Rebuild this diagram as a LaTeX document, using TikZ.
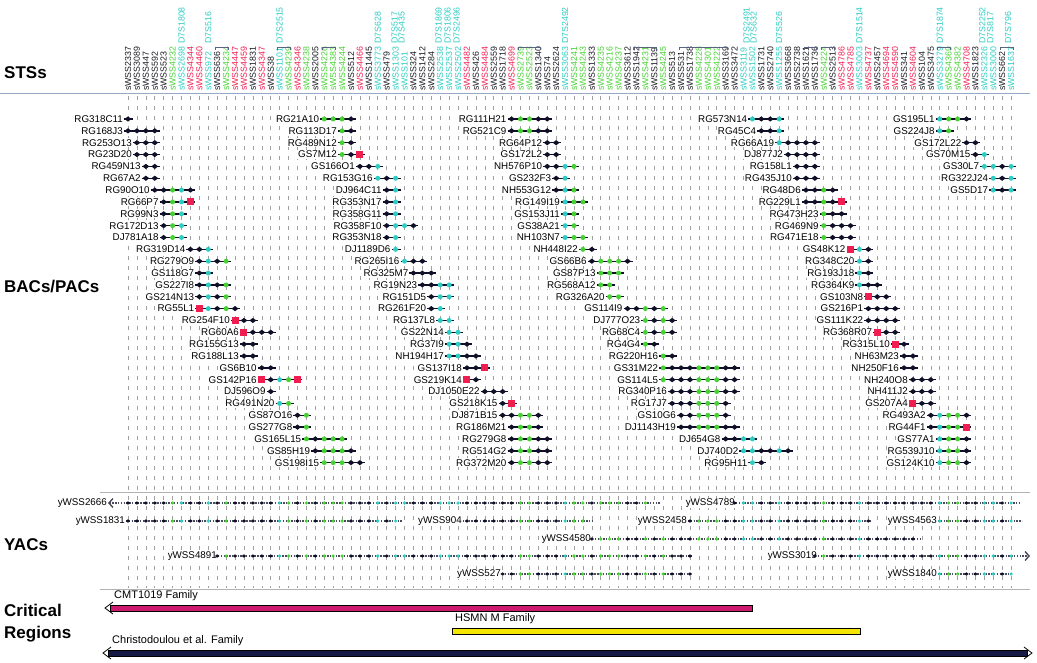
\documentclass[tikz,border=0pt]{standalone}
\usepackage{fontspec}
\setmainfont{Liberation Sans}
\usetikzlibrary{shapes.geometric,arrows.meta}

\definecolor{stsk}{RGB}{25,25,35}
\definecolor{stsg}{RGB}{70,210,50}
\definecolor{stsc}{RGB}{45,205,195}
\definecolor{stsr}{RGB}{240,30,80}
\definecolor{clonedark}{RGB}{15,15,40}
\definecolor{rulecol}{RGB}{150,170,200}
\definecolor{bracketcol}{RGB}{90,100,130}
\definecolor{cmtbar}{RGB}{205,25,110}
\definecolor{hsmnbar}{RGB}{245,230,0}
\definecolor{chrisbar}{RGB}{20,25,70}

% one BAC/PAC clone: name, row, first column, last column, red end columns
\newcommand{\clone}[5]{%
  \draw[cloneline] ({colx(#3)-4},{rowy(#2)}) -- ({colx(#4)+5},{rowy(#2)});
  \node[clonelabel] (#1) at ({colx(#3)-4},{rowy(#2)}) {#1};
  \foreach \j in {#3,...,#4} {%
    \if g\csname sc\j\endcsname
      \node[gdot] (#1-\j) at ({colx(\j)},{rowy(#2)}) {};
    \else\if c\csname sc\j\endcsname
      \node[cdot] (#1-\j) at ({colx(\j)},{rowy(#2)}) {};
    \else
      \node[kdia] (#1-\j) at ({colx(\j)},{rowy(#2)}) {};
    \fi\fi}%
  \ifx\relax#5\relax\else
    \foreach \j in {#5} {\node[rsq] (#1-r\j) at ({colx(\j)},{rowy(#2)}) {};}%
  \fi}

% one YAC: name, y, first column, last column, start x, end x, arrows
\newcommand{\yac}[7]{%
  \draw[yacline,#7] (#5,#2) -- (#6,#2);
  \node[clonelabel] (#1) at (#5,#2) {#1};
  \foreach \j in {#3,...,#4} {%
    \if g\csname sc\j\endcsname
      \node[gdot,minimum size=3.6pt] (#1-\j) at ({colx(\j)},#2) {};
    \else\if c\csname sc\j\endcsname
      \node[cdot,minimum size=3.6pt] (#1-\j) at ({colx(\j)},#2) {};
    \else
      \node[kdia,minimum width=4.6pt,minimum height=3.6pt] (#1-\j) at ({colx(\j)},#2) {};
    \fi\fi}}

\begin{document}
\begin{tikzpicture}[x=1pt, y=-1pt,
  declare function={colx(\i)=128+(\i-1)*8.92; rowy(\r)=119+(\r-1)*11.85;},
  >={Straight Barb[length=4pt,width=9pt]},
  sts/.style={rotate=90, anchor=west, inner sep=0pt, font=\fontsize{8.8}{9}\selectfont},
  dsts/.style={sts, text=stsc},
  head/.style={anchor=west, inner sep=0pt, align=left, font=\bfseries\fontsize{17}{22}\selectfont},
  clonelabel/.style={anchor=east, fill=white, inner sep=1pt, font=\fontsize{9.8}{10}\selectfont},
  critlabel/.style={anchor=west, inner sep=0pt, font=\fontsize{11}{12}\selectfont},
  cloneline/.style={line width=1.4pt, clonedark},
  yacline/.style={line width=1.4pt, clonedark!75, dash pattern=on 1.4pt off 1.4pt},
  gridline/.style={gray!75, line width=0.6pt, dash pattern=on 4pt off 6pt},
  bracket/.style={bracketcol, line width=0.7pt},
  kdia/.style={diamond, fill=clonedark, inner sep=0pt, minimum width=7pt, minimum height=5.4pt},
  gdot/.style={circle, fill=stsg, inner sep=0pt, minimum size=5pt},
  cdot/.style={circle, fill=stsc, inner sep=0pt, minimum size=5pt},
  rsq/.style={rectangle, fill=stsr, inner sep=0pt, minimum size=7pt},
  critbar/.style={draw=black, line width=0.7pt}]

\useasboundingbox (0,0) rectangle (1037,662);

% section titles
\node[head] (stshead) at (4,73) {STSs};
\node[head] (bachead) at (4,287) {BACs/PACs};
\node[head] (yachead) at (4,545) {YACs};
\node[head] (crithead) at (4,623) {Critical\\Regions};

% dashed column lines
\foreach \i in {1,...,100}
  \draw[gridline] ({colx(\i)},96) -- ({colx(\i)},588);

\draw[rulecol, line width=0.8pt] (0,93) -- (1030,93);
\draw[gray!60, line width=0.8pt] (100,492) -- (1030,492);
\draw[gray!60, line width=0.8pt] (100,589) -- (1030,589);

% STS markers along the top
\foreach \n/\t [count=\i] in {2337/k,3089/k,447/k,592/k,523/k,4232/g,2698/c,4344/r,4460/r,972/c,
  636/k,4234/g,4447/r,4459/r,1831/k,4347/r,38/k,1101/c,4239/g,4346/r,
  4238/g,2005/k,4226/g,4383/g,4244/g,512/k,4466/r,1445/k,3773/c,479/k,
  1303/c,101/c,324/k,1412/k,284/k,2538/c,2537/c,2502/c,4482/r,426/k,
  4484/r,2559/k,1718/k,4699/r,2739/g,2523/g,1340/k,74/k,2624/k,3063/c,
  4241/g,4243/g,1333/k,4235/g,4216/g,4237/g,3612/k,1942/k,4231/g,1139/k,
  4245/g,513/k,531/k,1738/k,4228/g,4301/g,4222/g,3169/k,3472/k,3119/c,
  1502/c,1731/k,2740/k,1255/c,3668/k,2738/k,1621/k,1736/k,4224/g,2513/k,
  4786/r,4785/r,3003/c,4737/r,2457/k,4694/r,4590/r,341/k,4604/r,104/k,
  3475/k,3279/c,4369/g,4382/g,4708/r,1823/k,2326/c,3000/c,662/k,1637/c} {
  \node[sts, text=sts\t] (s\n) at ({colx(\i)},91) {sWSS\n};
  \expandafter\xdef\csname sc\i\endcsname{\t}
}

% D7S names
\node[dsts] (d1808) at ({colx(7)},44) {D7S1808};
\node[dsts] (d516) at ({colx(10)},44) {D7S516};
\node[dsts] (d2515) at ({colx(18)},44) {D7S2515};
\node[dsts] (d628) at ({colx(29)},44) {D7S628};
\node[dsts] (d517) at ({colx(31)-1},44) {D7S517};
\node[dsts] (d435) at ({colx(31)+6},44) {D7S435};
\node[dsts] (d1869) at ({colx(36)-1.5},44) {D7S1869};
\node[dsts] (d1806) at ({colx(37)-1.5},44) {D7S1806};
\node[dsts] (d2496) at ({colx(38)-1.5},44) {D7S2496};
\node[dsts] (d2492) at ({colx(50)},44) {D7S2492};
\node[dsts] (d2491) at ({colx(70)+3},44) {D7S2491};
\node[dsts] (d632) at ({colx(70)+10},44) {D7S632};
\node[dsts] (d526) at ({colx(74)},44) {D7S526};
\node[dsts] (d1514) at ({colx(83)},44) {D7S1514};
\node[dsts] (d1874) at ({colx(92)},44) {D7S1874};
\node[dsts] (d2252) at ({colx(97)-2},44) {D7S2252};
\node[dsts] (d817) at ({colx(98)-3},44) {D7S817};
\node[dsts] (d796) at ({colx(100)-3},44) {D7S796};

\foreach \a/\b in {11/12,18/19,23/24,45/47,58/60,63/68,77/78,79/80,92/93,99/100}
  \draw[bracket] ({colx(\a)-2},50) -- ({colx(\a)-2},47) -- ({colx(\b)+2},47) -- ({colx(\b)+2},50);

% BACs/PACs
\clone{RG318C11}{1}{1}{1}{}
\clone{RG168J3}{2}{1}{4}{}
\clone{RG253O13}{3}{2}{4}{}
\clone{RG23D20}{4}{2}{4}{}
\clone{RG459N13}{5}{3}{4}{}
\clone{RG67A2}{6}{3}{4}{}
\clone{RG90O10}{7}{4}{8}{}
\clone{RG66P7}{8}{5}{8}{8}
\clone{RG99N3}{9}{5}{7}{}
\clone{RG172D13}{10}{5}{7}{}
\clone{DJ781A18}{11}{5}{7}{}
\clone{RG319D14}{12}{8}{10}{}
\clone{RG279O9}{13}{9}{12}{}
\clone{GS118G7}{14}{9}{10}{}
\clone{GS227I8}{15}{9}{12}{}
\clone{GS214N13}{16}{9}{12}{}
\clone{RG55L1}{17}{9}{13}{9}
\clone{RG254F10}{18}{13}{15}{13}
\clone{RG60A6}{19}{14}{17}{14}
\clone{RG155G13}{20}{14}{15}{}
\clone{RG188L13}{21}{14}{15}{}
\clone{GS6B10}{22}{16}{17}{}
\clone{GS142P16}{23}{16}{20}{16,20}
\clone{DJ596O9}{24}{17}{17}{}
\clone{RG491N20}{25}{18}{19}{}
\clone{GS87O16}{26}{20}{21}{}
\clone{GS277G8}{27}{20}{21}{}
\clone{GS165L15}{28}{21}{25}{}
\clone{GS85H19}{29}{22}{26}{}
\clone{GS198I15}{30}{23}{27}{}

\clone{RG21A10}{1}{23}{26}{}
\clone{RG113D17}{2}{25}{26}{}
\clone{RG489N12}{3}{25}{26}{}
\clone{GS7M12}{4}{25}{27}{27}
\clone{GS166O1}{5}{27}{29}{}
\clone{RG153G16}{6}{29}{31}{}
\clone{DJ964C11}{7}{30}{31}{}
\clone{RG353N17}{8}{30}{31}{}
\clone{RG358G11}{9}{30}{31}{}
\clone{RG358F10}{10}{30}{33}{}
\clone{RG353N18}{11}{30}{31}{}
\clone{DJ1189D6}{12}{31}{31}{}
\clone{RG265I16}{13}{32}{34}{}
\clone{RG325M7}{14}{33}{35}{}
\clone{RG19N23}{15}{34}{37}{}
\clone{RG151D5}{16}{35}{37}{}
\clone{RG261F20}{17}{35}{36}{}
\clone{RG137L8}{18}{36}{37}{}
\clone{GS22N14}{19}{37}{38}{}
\clone{RG37I9}{20}{37}{39}{}
\clone{NH194H17}{21}{37}{40}{}
\clone{GS137I18}{22}{39}{41}{41}
\clone{GS219K14}{23}{39}{40}{39}
\clone{DJ1050E22}{24}{41}{43}{}
\clone{GS218K15}{25}{43}{44}{44}
\clone{DJ871B15}{26}{43}{47}{}
\clone{RG186M21}{27}{44}{47}{}
\clone{RG279G8}{28}{44}{48}{}
\clone{RG514G2}{29}{44}{48}{}
\clone{RG372M20}{30}{44}{48}{}

\clone{RG111H21}{1}{44}{48}{}
\clone{RG521C9}{2}{44}{48}{}
\clone{RG64P12}{3}{48}{49}{}
\clone{GS172L2}{4}{48}{49}{}
\clone{NH576P10}{5}{48}{51}{}
\clone{GS232F3}{6}{49}{50}{}
\clone{NH553G12}{7}{49}{51}{}
\clone{RG149I19}{8}{50}{52}{}
\clone{GS153J11}{9}{50}{51}{}
\clone{GS38A21}{10}{50}{51}{}
\clone{NH103N7}{11}{50}{52}{}
\clone{NH448I22}{12}{52}{53}{}
\clone{GS66B6}{13}{53}{57}{}
\clone{GS87P13}{14}{54}{56}{}
\clone{RG568A12}{15}{54}{55}{}
\clone{RG326A20}{16}{55}{56}{}
\clone{GS114I9}{17}{57}{61}{}
\clone{DJ777O23}{18}{59}{62}{}
\clone{RG68C4}{19}{59}{62}{}
\clone{RG4G4}{20}{59}{60}{}
\clone{RG220H16}{21}{61}{62}{}
\clone{GS31M22}{22}{61}{69}{}
\clone{GS114L5}{23}{61}{69}{}
\clone{RG340P16}{24}{62}{69}{}
\clone{RG17J7}{25}{62}{68}{}
\clone{GS10G6}{26}{63}{68}{}
\clone{DJ1143H19}{27}{63}{69}{}
\clone{DJ654G8}{28}{68}{71}{}
\clone{DJ740D2}{29}{70}{75}{}
\clone{RG95H11}{30}{71}{72}{}

\clone{RG573N14}{1}{71}{74}{}
\clone{RG45C4}{2}{72}{74}{}
\clone{RG66A19}{3}{74}{78}{}
\clone{DJ877J2}{4}{75}{78}{}
\clone{RG158L1}{5}{76}{78}{}
\clone{RG435J10}{6}{76}{78}{}
\clone{RG48D6}{7}{77}{80}{}
\clone{RG229L1}{8}{77}{81}{81}
\clone{RG473H23}{9}{79}{81}{}
\clone{RG469N9}{10}{79}{82}{}
\clone{RG471E18}{11}{79}{82}{}
\clone{GS48K12}{12}{82}{84}{82}
\clone{RG348C20}{13}{83}{84}{}
\clone{RG193J18}{14}{83}{84}{}
\clone{RG364K9}{15}{83}{85}{}
\clone{GS103N8}{16}{84}{86}{84}
\clone{GS216P1}{17}{84}{87}{}
\clone{GS111K22}{18}{84}{87}{}
\clone{RG368R07}{19}{85}{87}{85}
\clone{RG315L10}{20}{87}{88}{87}
\clone{NH63M23}{21}{88}{89}{}
\clone{NH250F16}{22}{88}{89}{}
\clone{NH240O8}{23}{89}{91}{}
\clone{NH411J2}{24}{89}{91}{}
\clone{GS207A4}{25}{89}{91}{89}
\clone{RG493A2}{26}{91}{95}{}
\clone{RG44F1}{27}{91}{95}{95}
\clone{GS77A1}{28}{92}{95}{}
\clone{RG539J10}{29}{92}{95}{}
\clone{GS124K10}{30}{92}{95}{}

\clone{GS195L1}{1}{92}{95}{}
\clone{GS224J8}{2}{92}{93}{}
\clone{GS172L22}{3}{95}{96}{}
\clone{GS70M15}{4}{96}{97}{}
\clone{GS30L7}{5}{97}{100}{}
\clone{RG322J24}{6}{98}{100}{}
\clone{GS5D17}{7}{98}{100}{}

% YACs
\yac{yWSS2666}{503}{1}{59}{108}{660}{<-}
\yac{yWSS4789}{503}{69}{100}{736}{1020}{-}
\yac{yWSS1831}{521}{1}{31}{126}{403}{-}
\yac{yWSS904}{521}{39}{52}{463}{592}{-}
\yac{yWSS2458}{521}{64}{84}{688}{872}{-}
\yac{yWSS4563}{521}{92}{100}{938}{1022}{-}
\yac{yWSS4580}{539}{53}{89}{592}{922}{-}
\yac{yWSS4891}{556}{11}{64}{218}{692}{-}
\yac{yWSS3019}{556}{78}{100}{818}{1030}{->}
\yac{yWSS527}{574}{43}{64}{502}{692}{-}
\yac{yWSS1840}{574}{92}{100}{938}{1012}{-}

% critical regions
\node[critlabel] (cmtlbl) at (114,596) {CMT1019 Family};
\draw[critbar, fill=cmtbar] (110,605) rectangle (752,611);
\draw[line width=0.8pt] (113,602) -- (105,608) -- (113,614);
\node[critlabel] (hsmnlbl) at (455,619) {HSMN M Family};
\draw[critbar, fill=hsmnbar] (452,628) rectangle (860,634);
\node[critlabel] (chrislbl) at (112,641) {Christodoulou et al. Family};
\draw[critbar, fill=chrisbar] (108,650) rectangle (1027,656);
\draw[line width=0.8pt] (111,647) -- (103,653) -- (111,659);
\draw[line width=0.8pt] (1024,647) -- (1032,653) -- (1024,659);
\end{tikzpicture}
\end{document}
